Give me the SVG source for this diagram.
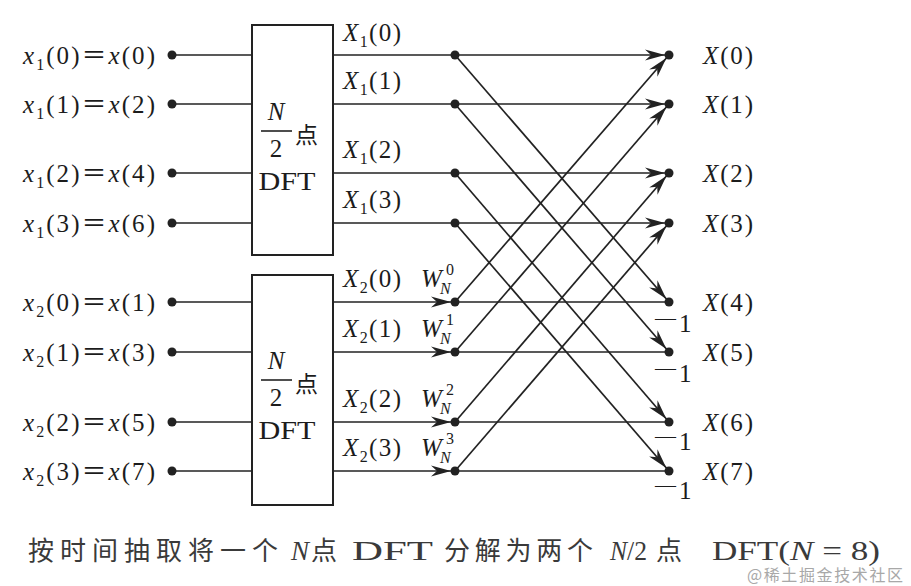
<svg xmlns="http://www.w3.org/2000/svg" width="911" height="586" viewBox="0 0 911 586">
<style>
.t{font-family:"Liberation Serif",serif;font-size:25px;fill:#1c1c1c}
.i{font-style:italic}
.s{font-size:16px}
.c{font-family:"Noto Sans CJK SC",sans-serif;fill:#1c1c1c}
.ln{stroke:#222;stroke-width:1.7;fill:none}
.ar{stroke:#222;stroke-width:1.7;fill:none;marker-end:url(#ah)}
.dot{fill:#222}
.box{fill:#fff;stroke:#222;stroke-width:2}
.cap{font-family:"Noto Sans CJK SC",sans-serif;font-size:26px;fill:#3a3a3a}
.capl{font-family:"Liberation Serif",serif;font-size:27px;fill:#3a3a3a}
.wm{font-family:"Noto Sans CJK SC",sans-serif;font-size:16px;fill:#a8a8a8}
</style>
<defs>
<marker id="ah" viewBox="-26 -7 27 14" markerWidth="27" markerHeight="14" refX="0" refY="0" orient="auto" markerUnits="userSpaceOnUse">
<path d="M-4,0 L-24,-5.5 L-18,0 L-24,5.5 Z" fill="#222"/>
</marker>
</defs>

<g id="connectors">
<line class="ln" x1="172" y1="55" x2="252" y2="55"/>
<line class="ln" x1="172" y1="104" x2="252" y2="104"/>
<line class="ln" x1="172" y1="173" x2="252" y2="173"/>
<line class="ln" x1="172" y1="223" x2="252" y2="223"/>
<line class="ln" x1="172" y1="302" x2="252" y2="302"/>
<line class="ln" x1="172" y1="352" x2="252" y2="352"/>
<line class="ln" x1="172" y1="422" x2="252" y2="422"/>
<line class="ln" x1="172" y1="471" x2="252" y2="471"/>
<line class="ln" x1="333" y1="55" x2="455" y2="55"/>
<line class="ln" x1="333" y1="104" x2="455" y2="104"/>
<line class="ln" x1="333" y1="173" x2="455" y2="173"/>
<line class="ln" x1="333" y1="223" x2="455" y2="223"/>
<line class="ar" x1="333" y1="302" x2="455" y2="302"/>
<line class="ar" x1="333" y1="352" x2="455" y2="352"/>
<line class="ar" x1="333" y1="422" x2="455" y2="422"/>
<line class="ar" x1="333" y1="471" x2="455" y2="471"/>
<line class="ar" x1="455" y1="55" x2="669" y2="55"/>
<line class="ar" x1="455" y1="104" x2="669" y2="104"/>
<line class="ar" x1="455" y1="173" x2="669" y2="173"/>
<line class="ar" x1="455" y1="223" x2="669" y2="223"/>
<line class="ln" x1="455" y1="302" x2="669" y2="302"/>
<line class="ln" x1="455" y1="352" x2="669" y2="352"/>
<line class="ln" x1="455" y1="422" x2="669" y2="422"/>
<line class="ln" x1="455" y1="471" x2="669" y2="471"/>
<line class="ar" x1="455" y1="55" x2="669" y2="302"/>
<line class="ar" x1="455" y1="104" x2="669" y2="352"/>
<line class="ar" x1="455" y1="173" x2="669" y2="422"/>
<line class="ar" x1="455" y1="223" x2="669" y2="471"/>
<line class="ar" x1="455" y1="302" x2="669" y2="55"/>
<line class="ar" x1="455" y1="352" x2="669" y2="104"/>
<line class="ar" x1="455" y1="422" x2="669" y2="173"/>
<line class="ar" x1="455" y1="471" x2="669" y2="223"/>
</g>

<g id="inputs">
<g id="in0"><circle class="dot" cx="172" cy="55" r="4.5"/><text class="t" x="23" y="64" textLength="132"><tspan class="i">x</tspan><tspan class="s" dy="6">1</tspan><tspan dy="-6">(0)</tspan><tspan class="c">＝</tspan><tspan class="i">x</tspan>(0)</text></g>
<g id="in1"><circle class="dot" cx="172" cy="104" r="4.5"/><text class="t" x="23" y="113" textLength="132"><tspan class="i">x</tspan><tspan class="s" dy="6">1</tspan><tspan dy="-6">(1)</tspan><tspan class="c">＝</tspan><tspan class="i">x</tspan>(2)</text></g>
<g id="in2"><circle class="dot" cx="172" cy="173" r="4.5"/><text class="t" x="23" y="182" textLength="132"><tspan class="i">x</tspan><tspan class="s" dy="6">1</tspan><tspan dy="-6">(2)</tspan><tspan class="c">＝</tspan><tspan class="i">x</tspan>(4)</text></g>
<g id="in3"><circle class="dot" cx="172" cy="223" r="4.5"/><text class="t" x="23" y="232" textLength="132"><tspan class="i">x</tspan><tspan class="s" dy="6">1</tspan><tspan dy="-6">(3)</tspan><tspan class="c">＝</tspan><tspan class="i">x</tspan>(6)</text></g>
<g id="in4"><circle class="dot" cx="172" cy="302" r="4.5"/><text class="t" x="23" y="311" textLength="132"><tspan class="i">x</tspan><tspan class="s" dy="6">2</tspan><tspan dy="-6">(0)</tspan><tspan class="c">＝</tspan><tspan class="i">x</tspan>(1)</text></g>
<g id="in5"><circle class="dot" cx="172" cy="352" r="4.5"/><text class="t" x="23" y="361" textLength="132"><tspan class="i">x</tspan><tspan class="s" dy="6">2</tspan><tspan dy="-6">(1)</tspan><tspan class="c">＝</tspan><tspan class="i">x</tspan>(3)</text></g>
<g id="in6"><circle class="dot" cx="172" cy="422" r="4.5"/><text class="t" x="23" y="431" textLength="132"><tspan class="i">x</tspan><tspan class="s" dy="6">2</tspan><tspan dy="-6">(2)</tspan><tspan class="c">＝</tspan><tspan class="i">x</tspan>(5)</text></g>
<g id="in7"><circle class="dot" cx="172" cy="471" r="4.5"/><text class="t" x="23" y="480" textLength="132"><tspan class="i">x</tspan><tspan class="s" dy="6">2</tspan><tspan dy="-6">(3)</tspan><tspan class="c">＝</tspan><tspan class="i">x</tspan>(7)</text></g>
</g>

<g id="dft1">
<rect class="box" x="252" y="25" width="81" height="230"/>
<text class="t i" x="276" y="120" text-anchor="middle">N</text>
<line x1="261" y1="131" x2="292" y2="131" stroke="#222" stroke-width="1.6"/>
<text class="t" x="276" y="157" text-anchor="middle">2</text>
<text class="c" x="295" y="143" font-size="23">点</text>
<text class="t" x="287" y="190" text-anchor="middle" font-size="26" textLength="57" lengthAdjust="spacingAndGlyphs">DFT</text>
</g>
<g id="dft2">
<rect class="box" x="252" y="275" width="81" height="230"/>
<text class="t i" x="276" y="369" text-anchor="middle">N</text>
<line x1="261" y1="380" x2="292" y2="380" stroke="#222" stroke-width="1.6"/>
<text class="t" x="276" y="406" text-anchor="middle">2</text>
<text class="c" x="295" y="392" font-size="23">点</text>
<text class="t" x="287" y="439" text-anchor="middle" font-size="26" textLength="57" lengthAdjust="spacingAndGlyphs">DFT</text>
</g>

<g id="mid">
<g id="m0"><circle class="dot" cx="455" cy="55" r="4.5"/><text class="t" x="343" y="41" textLength="58"><tspan class="i">X</tspan><tspan class="s" dy="6">1</tspan><tspan dy="-6">(0)</tspan></text></g>
<g id="m1"><circle class="dot" cx="455" cy="104" r="4.5"/><text class="t" x="343" y="89" textLength="58"><tspan class="i">X</tspan><tspan class="s" dy="6">1</tspan><tspan dy="-6">(1)</tspan></text></g>
<g id="m2"><circle class="dot" cx="455" cy="173" r="4.5"/><text class="t" x="343" y="158" textLength="58"><tspan class="i">X</tspan><tspan class="s" dy="6">1</tspan><tspan dy="-6">(2)</tspan></text></g>
<g id="m3"><circle class="dot" cx="455" cy="223" r="4.5"/><text class="t" x="343" y="208" textLength="58"><tspan class="i">X</tspan><tspan class="s" dy="6">1</tspan><tspan dy="-6">(3)</tspan></text></g>
<g id="m4"><circle class="dot" cx="455" cy="302" r="4.5"/><text class="t" x="343" y="287" textLength="58"><tspan class="i">X</tspan><tspan class="s" dy="6">2</tspan><tspan dy="-6">(0)</tspan></text>
<text class="t i" x="421" y="287">W</text><text class="t s" x="446" y="275">0</text><text class="t s i" x="440" y="294">N</text></g>
<g id="m5"><circle class="dot" cx="455" cy="352" r="4.5"/><text class="t" x="343" y="337" textLength="58"><tspan class="i">X</tspan><tspan class="s" dy="6">2</tspan><tspan dy="-6">(1)</tspan></text>
<text class="t i" x="421" y="337">W</text><text class="t s" x="446" y="325">1</text><text class="t s i" x="440" y="344">N</text></g>
<g id="m6"><circle class="dot" cx="455" cy="422" r="4.5"/><text class="t" x="343" y="407" textLength="58"><tspan class="i">X</tspan><tspan class="s" dy="6">2</tspan><tspan dy="-6">(2)</tspan></text>
<text class="t i" x="421" y="407">W</text><text class="t s" x="446" y="395">2</text><text class="t s i" x="440" y="414">N</text></g>
<g id="m7"><circle class="dot" cx="455" cy="471" r="4.5"/><text class="t" x="343" y="456" textLength="58"><tspan class="i">X</tspan><tspan class="s" dy="6">2</tspan><tspan dy="-6">(3)</tspan></text>
<text class="t i" x="421" y="456">W</text><text class="t s" x="446" y="444">3</text><text class="t s i" x="440" y="463">N</text></g>
</g>

<g id="outputs">
<g id="o0"><circle class="dot" cx="669" cy="55" r="4.5"/><text class="t" x="703" y="64" textLength="50"><tspan class="i">X</tspan>(0)</text></g>
<g id="o1"><circle class="dot" cx="669" cy="104" r="4.5"/><text class="t" x="703" y="113" textLength="50"><tspan class="i">X</tspan>(1)</text></g>
<g id="o2"><circle class="dot" cx="669" cy="173" r="4.5"/><text class="t" x="703" y="182" textLength="50"><tspan class="i">X</tspan>(2)</text></g>
<g id="o3"><circle class="dot" cx="669" cy="223" r="4.5"/><text class="t" x="703" y="232" textLength="50"><tspan class="i">X</tspan>(3)</text></g>
<g id="o4"><circle class="dot" cx="669" cy="302" r="4.5"/><text class="t" x="703" y="311" textLength="50"><tspan class="i">X</tspan>(4)</text><text class="t" x="655" y="332"><tspan font-size="21" dy="-7">—</tspan><tspan dx="3" dy="7">1</tspan></text></g>
<g id="o5"><circle class="dot" cx="669" cy="352" r="4.5"/><text class="t" x="703" y="361" textLength="50"><tspan class="i">X</tspan>(5)</text><text class="t" x="655" y="382"><tspan font-size="21" dy="-7">—</tspan><tspan dx="3" dy="7">1</tspan></text></g>
<g id="o6"><circle class="dot" cx="669" cy="422" r="4.5"/><text class="t" x="703" y="431" textLength="50"><tspan class="i">X</tspan>(6)</text><text class="t" x="655" y="450"><tspan font-size="21" dy="-7">—</tspan><tspan dx="3" dy="7">1</tspan></text></g>
<g id="o7"><circle class="dot" cx="669" cy="471" r="4.5"/><text class="t" x="703" y="480" textLength="50"><tspan class="i">X</tspan>(7)</text><text class="t" x="655" y="499"><tspan font-size="21" dy="-7">—</tspan><tspan dx="3" dy="7">1</tspan></text></g>
</g>

<g id="caption">
<text class="cap" x="28" y="560" textLength="250">按时间抽取将一个</text>
<text class="capl" x="291" y="560" font-style="italic">N</text>
<text class="cap" x="311" y="560">点</text>
<text class="capl" x="352" y="560" textLength="81" lengthAdjust="spacingAndGlyphs">DFT</text>
<text class="cap" x="444" y="560" textLength="149">分解为两个</text>
<text class="capl" x="610" y="560" textLength="37" lengthAdjust="spacingAndGlyphs"><tspan font-style="italic">N</tspan>/2</text>
<text class="cap" x="656" y="560">点</text>
<text class="capl" x="712" y="560" textLength="168" lengthAdjust="spacingAndGlyphs">DFT(<tspan font-style="italic">N</tspan> = 8)</text>
<text class="wm" x="747" y="581" textLength="156">@稀土掘金技术社区</text>
</g>
</svg>
